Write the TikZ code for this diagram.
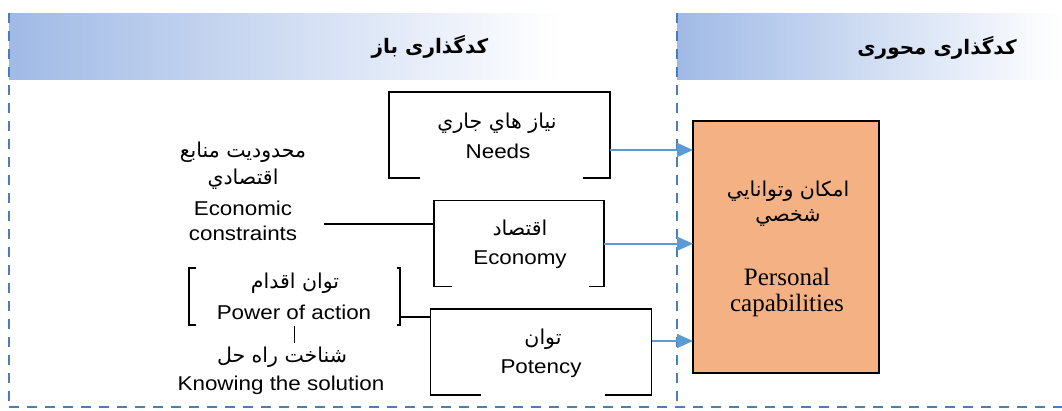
\documentclass[tikz,border=0pt]{standalone}
\usepackage{fontspec}
\usetikzlibrary{arrows.meta,calc}
\TeXXeTstate=1
\newfontfamily\ar[Script=Arabic]{DejaVu Sans}
\newfontfamily\arb[Script=Arabic]{DejaVu Sans Bold}
\newfontfamily\en[FakeStretch=1.12]{Liberation Sans}
\newfontfamily\tm{Liberation Serif}
\definecolor{dashblue}{RGB}{74,126,187}
\definecolor{arrblue}{RGB}{91,155,213}
\definecolor{hdr}{RGB}{160,186,230}
\definecolor{orng}{RGB}{244,177,131}
\tikzset{
  frame/.style={draw=dashblue,line width=2pt,dash pattern=on 10pt off 8pt},
  boxline/.style={draw=black,line width=1.5pt},
  plain/.style={draw=black,line width=1.5pt},
  holder/.style={inner sep=0pt,outer sep=0pt},
  arr/.style={draw=arrblue,line width=1.6pt,-{Triangle[length=16pt,width=14pt,fill=arrblue]}},
  artxt/.style={inner sep=0pt,font=\ar\fontsize{20.5}{22}\selectfont},
  entxt/.style={inner sep=0pt,font=\en\fontsize{20}{22}\selectfont},
  tmtxt/.style={inner sep=0pt,font=\tm\fontsize{25}{28}\selectfont},
  hdtxt/.style={inner sep=0pt,font=\arb\fontsize{20}{22}\selectfont},
}
\begin{document}
\begin{tikzpicture}[x=1pt,y=-1pt]
\useasboundingbox (0,0) rectangle (1062,410);
% headers
\fill[left color=hdr,right color=white] (9,13) rectangle (560,79);
\fill[left color=hdr,right color=white] (677,13) rectangle (1062,79);
\node[hdtxt] (hopen) at (430,47) {\beginR کدگذاری باز\endR};
\node[hdtxt] (haxial) at (937,48) {\beginR کدگذاری محوری\endR};
% frame
\draw[frame] (9,13) -- (9,407);
\draw[frame] (677,13) -- (677,407);
\draw[frame] (9,407) -- (1062,407);
% central box
\node[holder,draw=black,line width=2pt,fill=orng,minimum width=186pt,minimum height=252pt] (cap) at (786,246.5) {};
\node[artxt] (capar1) at (788,191) {\beginR امكان وتوانايي\endR};
\node[artxt] (capar2) at (788,218) {\beginR شخصي\endR};
\node[tmtxt] (capen1) at (787,277) {Personal};
\node[tmtxt] (capen2) at (787,305) {capabilities};
% needs box
\node[holder,minimum width=221pt,minimum height=86pt] (needs) at (499.5,135) {};
\draw[boxline] ([xshift=31pt]needs.south west) -- (needs.south west) -- (needs.north west) -- (needs.north east) -- (needs.south east) -- ([xshift=-27pt]needs.south east);
\node[artxt] (needsar) at (497,123) {\beginR نیاز هاي جاري\endR};
\node[entxt] (needsen) at (498,151) {Needs};
% economy box
\node[holder,minimum width=170pt,minimum height=86pt] (economy) at (519,243.7) {};
\draw[boxline] ([xshift=18pt]economy.south west) -- (economy.south west) -- (economy.north west) -- (economy.north east) -- (economy.south east) -- ([xshift=-15pt]economy.south east);
\node[artxt] (econar) at (520,228) {\beginR اقتصاد\endR};
\node[entxt] (econen) at (520,260) {Economy};
% potency box
\node[holder,minimum width=221pt,minimum height=86pt] (potency) at (541,352) {};
\draw[boxline] ([xshift=50pt]potency.south west) -- (potency.south west) -- (potency.north west) -- (potency.north east) -- (potency.south east) -- ([xshift=-47pt]potency.south east);
\node[artxt] (potar) at (543,339) {\beginR توان\endR};
\node[entxt] (poten) at (541,369) {Potency};
% economic constraints
\node[artxt] (ecar1) at (243,152) {\beginR محدوديت منابع\endR};
\node[artxt] (ecar2) at (243,179) {\beginR اقتصادي\endR};
\node[entxt] (ecen1) at (243,208) {Economic};
\node[entxt] (ecen2) at (243,233) {constraints};
\coordinate (ecout) at (324,224);
% power of action bracket
\node[holder,minimum width=211pt,minimum height=57pt] (power) at (294.5,296.5) {};
\draw[plain] ([xshift=7pt]power.north west) -- (power.north west) -- (power.south west) -- ([xshift=7pt]power.south west);
\draw[plain] ([xshift=-3pt]power.north east) -- (power.north east) -- (power.south east) -- ([xshift=-3pt]power.south east);
\node[artxt] (powar) at (295,283) {\beginR توان اقدام\endR};
\node[entxt] (powen) at (294,312) {Power of action};
\node[artxt] (knowar) at (282,357) {\beginR شناخت راه حل\endR};
\node[entxt] (knowen) at (281,385) {Knowing the solution};
% connectors
\draw[plain] (ecout) -- (ecout -| economy.west);
\draw[plain] ([yshift=-20.5pt]power.east) -- ([yshift=-20.5pt]power.east -| potency.west);
\draw[plain,line width=1.2pt] ([yshift=-1pt]power.south) -- ++(0,17);
\draw[arr] ([yshift=-15pt]needs.east) -- ([yshift=-15pt]needs.east -| cap.west);
\draw[arr] (economy.east) -- (economy.east -| cap.west);
\draw[arr] ([yshift=11pt]potency.east) -- ([yshift=11pt]potency.east -| cap.west);
\end{tikzpicture}
\end{document}
